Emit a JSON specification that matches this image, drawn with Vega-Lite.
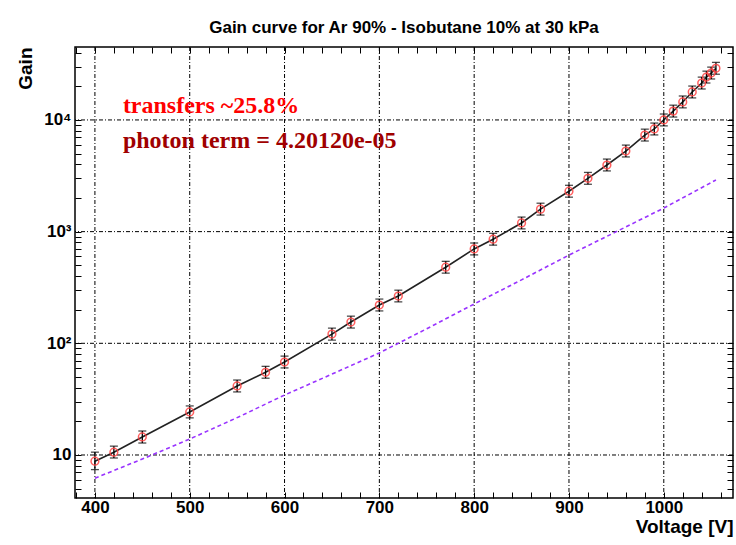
{
  "$schema": "https://vega.github.io/schema/vega-lite/v6.json",
  "width": 658,
  "height": 451,
  "autosize": {"type": "none"},
  "padding": {"left": 75, "top": 47, "right": 3, "bottom": 47},
  "background": "white",
  "title": {
    "text": "Gain curve for Ar 90% - Isobutane 10% at 30 kPa",
    "font": "Liberation Sans",
    "fontSize": 17,
    "fontWeight": "bold",
    "color": "black",
    "anchor": "middle",
    "offset": 7
  },
  "config": {
    "view": {"stroke": "black", "strokeWidth": 1.5},
    "axis": {"tickColor": "black", "tickWidth": 1, "labelColor": "black", "titleColor": "black"}
  },
  "datasets": {
    "meas": [
      {"V": 400, "gain": 8.8, "lo": 7.4, "hi": 10.6},
      {"V": 420, "gain": 10.6, "lo": 9.4, "hi": 12.0},
      {"V": 450, "gain": 14.5, "lo": 12.8, "hi": 16.4},
      {"V": 500, "gain": 24.3, "lo": 21.5, "hi": 27.5},
      {"V": 550, "gain": 41.5, "lo": 36.7, "hi": 46.9},
      {"V": 580, "gain": 55, "lo": 48.7, "hi": 62.2},
      {"V": 600, "gain": 68, "lo": 60.2, "hi": 76.8},
      {"V": 650, "gain": 121, "lo": 107, "hi": 137},
      {"V": 670, "gain": 155, "lo": 137, "hi": 175},
      {"V": 700, "gain": 220, "lo": 195, "hi": 249},
      {"V": 720, "gain": 265, "lo": 235, "hi": 299},
      {"V": 770, "gain": 480, "lo": 425, "hi": 542},
      {"V": 800, "gain": 700, "lo": 619, "hi": 791},
      {"V": 820, "gain": 855, "lo": 757, "hi": 966},
      {"V": 850, "gain": 1195, "lo": 1058, "hi": 1350},
      {"V": 870, "gain": 1590, "lo": 1407, "hi": 1797},
      {"V": 900, "gain": 2300, "lo": 2035, "hi": 2599},
      {"V": 920, "gain": 3000, "lo": 2655, "hi": 3390},
      {"V": 940, "gain": 3950, "lo": 3496, "hi": 4464},
      {"V": 960, "gain": 5270, "lo": 4664, "hi": 5955},
      {"V": 980, "gain": 7320, "lo": 6478, "hi": 8272},
      {"V": 990, "gain": 8300, "lo": 7345, "hi": 9379},
      {"V": 1000, "gain": 10000, "lo": 8850, "hi": 11300},
      {"V": 1010, "gain": 12000, "lo": 10620, "hi": 13560},
      {"V": 1020, "gain": 14500, "lo": 12832, "hi": 16385},
      {"V": 1030, "gain": 17800, "lo": 15752, "hi": 20114},
      {"V": 1040, "gain": 21400, "lo": 18938, "hi": 24182},
      {"V": 1045, "gain": 24200, "lo": 21416, "hi": 27346},
      {"V": 1050, "gain": 26300, "lo": 23274, "hi": 29719},
      {"V": 1055, "gain": 29000, "lo": 25664, "hi": 32770}
    ],
    "photon": [
      {"V": 400, "gain": 6.2},
      {"V": 450, "gain": 9.2},
      {"V": 500, "gain": 13.9},
      {"V": 550, "gain": 21.6},
      {"V": 600, "gain": 34.4},
      {"V": 650, "gain": 53},
      {"V": 700, "gain": 82},
      {"V": 750, "gain": 135},
      {"V": 800, "gain": 225},
      {"V": 850, "gain": 370},
      {"V": 900, "gain": 617},
      {"V": 950, "gain": 1000},
      {"V": 1000, "gain": 1625},
      {"V": 1055, "gain": 2900}
    ],
    "xgrid": [{"V": 400}, {"V": 500}, {"V": 600}, {"V": 700}, {"V": 800}, {"V": 900}, {"V": 1000}],
    "ygrid": [{"gain": 10}, {"gain": 100}, {"gain": 1000}, {"gain": 10000}]
  },
  "resolve": {"axis": {"x": "independent", "y": "independent"}},
  "layer": [
    {
      "data": {"name": "xgrid"},
      "mark": {"type": "rule", "color": "black", "strokeWidth": 1, "strokeDash": [4, 2, 1, 2]},
      "encoding": {
        "x": {"field": "V", "type": "quantitative", "scale": {"domain": [379, 1073], "nice": false, "zero": false}, "axis": null}
      }
    },
    {
      "data": {"name": "ygrid"},
      "mark": {"type": "rule", "color": "black", "strokeWidth": 1, "strokeDash": [4, 2, 1, 2]},
      "encoding": {
        "y": {"field": "gain", "type": "quantitative", "scale": {"type": "log", "domain": [4.12, 45000], "nice": false}, "axis": null}
      }
    },
    {
      "data": {"name": "photon"},
      "mark": {"type": "line", "color": "#9933ff", "strokeWidth": 1.6, "strokeDash": [4, 3]},
      "encoding": {
        "x": {
          "field": "V", "type": "quantitative",
          "axis": {
            "orient": "top", "values": [380,400,420,440,460,480,500,520,540,560,580,600,620,640,660,680,700,720,740,760,780,800,820,840,860,880,900,920,940,960,980,1000,1020,1040,1060],
            "labels": false, "title": null, "grid": false, "domain": false, "tickSize": -6,
            "encode": {"ticks": {"update": {"y2": {"signal": "datum.value % 100 == 0 ? 12 : 6"}}}}
          }
        },
        "y": {
          "field": "gain", "type": "quantitative",
          "axis": {
            "orient": "right",
            "values": [5,6,7,8,9,10,20,30,40,50,60,70,80,90,100,200,300,400,500,600,700,800,900,1000,2000,3000,4000,5000,6000,7000,8000,9000,10000,20000,30000,40000],
            "labels": false, "title": null, "grid": false, "domain": false, "tickSize": -6,
            "encode": {"ticks": {"update": {"x2": {"signal": "indexof([10,100,1000,10000], datum.value) >= 0 ? -12 : -6"}}}}
          }
        }
      }
    },
    {
      "data": {"name": "meas"},
      "mark": {"type": "line", "color": "#222222", "strokeWidth": 1.6},
      "encoding": {
        "x": {"field": "V", "type": "quantitative", "axis": null},
        "y": {"field": "gain", "type": "quantitative", "axis": null}
      }
    },
    {
      "data": {"name": "meas"},
      "mark": {"type": "rule", "color": "black", "strokeWidth": 1.3},
      "encoding": {
        "x": {"field": "V", "type": "quantitative", "axis": null},
        "y": {"field": "lo", "type": "quantitative", "axis": null},
        "y2": {"field": "hi"}
      }
    },
    {
      "data": {"name": "meas"},
      "mark": {"type": "tick", "orient": "horizontal", "color": "black", "size": 8, "thickness": 1.3},
      "encoding": {
        "x": {"field": "V", "type": "quantitative", "axis": null},
        "y": {"field": "lo", "type": "quantitative", "axis": null}
      }
    },
    {
      "data": {"name": "meas"},
      "mark": {"type": "tick", "orient": "horizontal", "color": "black", "size": 8, "thickness": 1.3},
      "encoding": {
        "x": {"field": "V", "type": "quantitative", "axis": null},
        "y": {"field": "hi", "type": "quantitative", "axis": null}
      }
    },
    {
      "data": {"name": "meas"},
      "mark": {"type": "point", "shape": "circle", "filled": false, "color": "#ff4444", "size": 60, "strokeWidth": 1.5, "opacity": 0.85},
      "encoding": {
        "x": {
          "field": "V", "type": "quantitative",
          "axis": {
            "orient": "bottom",
            "values": [380,400,420,440,460,480,500,520,540,560,580,600,620,640,660,680,700,720,740,760,780,800,820,840,860,880,900,920,940,960,980,1000,1020,1040,1060],
            "format": "d",
            "labelExpr": "datum.value % 100 == 0 ? datum.label : ''",
            "labelOverlap": false, "labelFlush": false,
            "grid": false, "domain": false, "tickSize": -6, "labelPadding": 7,
            "labelFont": "Liberation Sans", "labelFontSize": 17, "labelFontWeight": "bold",
            "title": "Voltage [V]", "titleAnchor": "end", "titleFont": "Liberation Sans", "titleFontSize": 19, "titleFontWeight": "bold", "titlePadding": 2,
            "encode": {"ticks": {"update": {"y2": {"signal": "datum.value % 100 == 0 ? -12 : -6"}}}}
          }
        },
        "y": {
          "field": "gain", "type": "quantitative",
          "axis": {
            "orient": "left",
            "values": [5,6,7,8,9,10,20,30,40,50,60,70,80,90,100,200,300,400,500,600,700,800,900,1000,2000,3000,4000,5000,6000,7000,8000,9000,10000,20000,30000,40000],
            "labelExpr": "datum.value == 10 ? '10' : datum.value == 100 ? '10²' : datum.value == 1000 ? '10³' : datum.value == 10000 ? '10⁴' : ''",
            "labelOverlap": false, "labelFlush": false,
            "grid": false, "domain": false, "tickSize": -6, "labelPadding": 10,
            "labelFont": "Liberation Sans", "labelFontSize": 17, "labelFontWeight": "bold",
            "title": "Gain", "titleAnchor": "end", "titleFont": "Liberation Sans", "titleFontSize": 19, "titleFontWeight": "bold", "titlePadding": 8,
            "encode": {"ticks": {"update": {"x2": {"signal": "indexof([10,100,1000,10000], datum.value) >= 0 ? 12 : 6"}}}}
          }
        }
      }
    },
    {
      "data": {"values": [{"label": "transfers ~25.8%"}]},
      "mark": {"type": "text", "font": "Liberation Serif", "fontWeight": "bold", "fontSize": 24, "color": "#ff0000", "align": "left", "baseline": "alphabetic"},
      "encoding": {
        "x": {"datum": 429.5, "type": "quantitative", "axis": null},
        "y": {"datum": 11550, "type": "quantitative", "axis": null},
        "text": {"field": "label"}
      }
    },
    {
      "data": {"values": [{"label": "photon term = 4.20120e-05"}]},
      "mark": {"type": "text", "font": "Liberation Serif", "fontWeight": "bold", "fontSize": 24, "color": "#a00000", "align": "left", "baseline": "alphabetic"},
      "encoding": {
        "x": {"datum": 429.5, "type": "quantitative", "axis": null},
        "y": {"datum": 5610, "type": "quantitative", "axis": null},
        "text": {"field": "label"}
      }
    }
  ]
}
